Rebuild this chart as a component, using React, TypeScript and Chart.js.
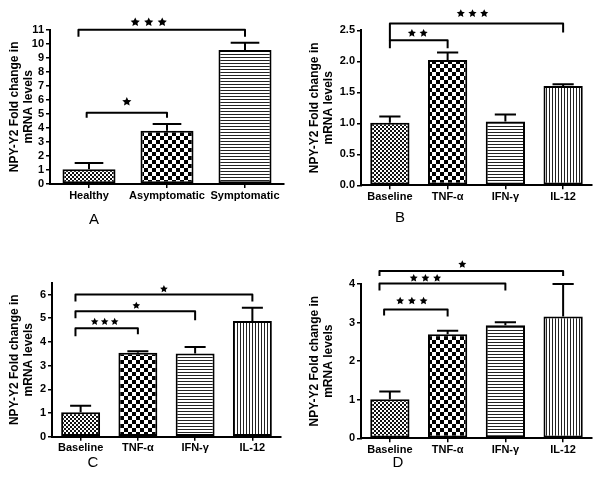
import React, { useEffect, useRef } from "react";
import { Chart, registerables } from "chart.js";
Chart.register(...registerables);

const FONT = '"Liberation Sans", Arial, Helvetica, sans-serif';
const Y_TITLE = ["NPY-Y2 Fold change in", "mRNA levels"];

// ---------- Panel A ----------
const A_CATEGORIES = ["Healthy", "Asymptomatic", "Symptomatic"];
const A_MEANS = [1.05, 3.8, 9.55];
const A_ERRORS = [0.45, 0.48, 0.52];
const A_BRACKET_FROM = [0, 0];
const A_BRACKET_TO = [2, 1];
const A_BRACKET_LEVEL = [11, 5.08];
const A_BRACKET_STARS = [3, 1];

// ---------- Panels B, C, D ----------
const TREATMENTS = ["Baseline", "TNF-α", "IFN-γ", "IL-12"];

const B_MEANS = [1.01, 2.02, 1.03, 1.6];
const B_ERRORS = [0.1, 0.12, 0.11, 0.03];
const B_BRACKET_FROM = [0, 0];
const B_BRACKET_TO = [3, 1];
const B_BRACKET_LEVEL = [2.61, 2.34];
const B_BRACKET_STARS = [3, 2];

const C_MEANS = [1.03, 3.54, 3.51, 4.88];
const C_ERRORS = [0.28, 0.07, 0.28, 0.56];
const C_BRACKET_FROM = [0, 0, 0];
const C_BRACKET_TO = [3, 2, 1];
const C_BRACKET_LEVEL = [6.0, 5.3, 4.58];
const C_BRACKET_STARS = [1, 1, 3];

const D_MEANS = [1.01, 2.7, 2.93, 3.16];
const D_ERRORS = [0.2, 0.09, 0.08, 0.84];
const D_BRACKET_FROM = [0, 0, 0];
const D_BRACKET_TO = [3, 2, 1];
const D_BRACKET_LEVEL = [4.34, 4.01, 3.34];
const D_BRACKET_STARS = [1, 3, 3];

// ---------- fill patterns ----------
function makePattern(kind: string): CanvasPattern | string {
  const c = document.createElement("canvas");
  const g = c.getContext("2d")!;
  if (kind === "fine") {
    c.width = 4; c.height = 4;
    g.fillStyle = "#fff"; g.fillRect(0, 0, 4, 4);
    g.fillStyle = "#111";
    g.fillRect(0, 0, 2, 2); g.fillRect(2, 2, 2, 2);
  } else if (kind === "coarse") {
    c.width = 8; c.height = 8;
    g.fillStyle = "#fff"; g.fillRect(0, 0, 8, 8);
    g.fillStyle = "#000";
    g.fillRect(0, 0, 4, 4); g.fillRect(4, 4, 4, 4);
  } else if (kind === "hlines") {
    c.width = 3; c.height = 3;
    g.fillStyle = "#fff"; g.fillRect(0, 0, 3, 3);
    g.fillStyle = "#222"; g.fillRect(0, 0, 3, 1);
  } else {
    c.width = 3; c.height = 3;
    g.fillStyle = "#fff"; g.fillRect(0, 0, 3, 3);
    g.fillStyle = "#222"; g.fillRect(0, 0, 1, 3);
  }
  const p = document.createElement("canvas").getContext("2d")!.createPattern(c, "repeat");
  return p || "#888";
}

type BracketStyle = { shift: number; legL: number; legR: number; dx: number; dy: number };

type PanelCfg = {
  left: number; top: number; w: number; h: number;
  labels: string[]; values: number[]; errors: number[];
  fills: string[];
  yMax: number; yStep: number; decimals: number;
  from: number[]; to: number[]; level: number[]; stars: number[];
  bstyle: BracketStyle[];
  starR: number; starGap: number;
  padding: { left: number; top: number; right: number; bottom: number };
  yWidth: number; xHeight: number;
  letter: string; letterX: number; letterY: number;
};

function drawStar(ctx: CanvasRenderingContext2D, cx: number, cy: number, r: number) {
  ctx.beginPath();
  for (let i = 0; i < 10; i++) {
    const a = -Math.PI / 2 + (i * Math.PI) / 5;
    const rad = i % 2 === 0 ? r : r * 0.48;
    const px = cx + rad * Math.cos(a);
    const py = cy + rad * Math.sin(a);
    if (i === 0) ctx.moveTo(px, py); else ctx.lineTo(px, py);
  }
  ctx.closePath();
  ctx.fill();
}

function annotations(cfg: PanelCfg) {
  return {
    id: "annot",
    afterDraw(chart: any) {
      const ctx: CanvasRenderingContext2D = chart.ctx;
      const xs = chart.scales.x;
      const ys = chart.scales.y;
      ctx.save();
      ctx.strokeStyle = "#000";
      ctx.fillStyle = "#000";
      ctx.lineWidth = 2;
      ctx.lineJoin = "round";
      ctx.lineCap = "butt";
      // error bars
      const meta = chart.getDatasetMeta(0);
      meta.data.forEach((el: any, i: number) => {
        const x = el.x;
        const yTop = el.y;
        const yErr = ys.getPixelForValue(cfg.values[i] + cfg.errors[i]);
        const half = el.width * 0.27;
        ctx.beginPath();
        ctx.moveTo(x, yTop);
        ctx.lineTo(x, yErr);
        ctx.moveTo(x - half, yErr);
        ctx.lineTo(x + half, yErr);
        ctx.stroke();
      });
      // significance brackets
      cfg.from.forEach((f, i) => {
        const st = cfg.bstyle[i];
        const xL = xs.getPixelForValue(f + st.shift);
        const xR = xs.getPixelForValue(cfg.to[i]);
        const y = ys.getPixelForValue(cfg.level[i]);
        ctx.beginPath();
        ctx.moveTo(xL, y + st.legL);
        ctx.lineTo(xL, y);
        ctx.lineTo(xR, y);
        ctx.lineTo(xR, y + st.legR);
        ctx.stroke();
        const n = cfg.stars[i];
        const cx = (xL + xR) / 2 + st.dx;
        for (let k = 0; k < n; k++) {
          const sx = cx + (k - (n - 1) / 2) * cfg.starGap;
          drawStar(ctx, sx, y - st.dy, cfg.starR);
        }
      });
      // panel letter
      ctx.font = `15px ${FONT}`;
      ctx.textAlign = "center";
      ctx.textBaseline = "middle";
      ctx.fillText(cfg.letter, cfg.letterX, cfg.letterY);
      ctx.restore();
    },
  };
}

const PANELS: PanelCfg[] = [
  {
    left: 0, top: 0, w: 300, h: 240,
    labels: A_CATEGORIES, values: A_MEANS, errors: A_ERRORS,
    fills: ["fine", "coarse", "hlines"],
    yMax: 11, yStep: 1, decimals: 0,
    from: A_BRACKET_FROM, to: A_BRACKET_TO, level: A_BRACKET_LEVEL, stars: A_BRACKET_STARS,
    bstyle: [
      { shift: -0.135, legL: 7, legR: 7, dx: -13, dy: 7.5 },
      { shift: -0.03, legL: 5, legR: 5, dx: 0, dy: 11 },
    ],
    starR: 4.8, starGap: 13.5,
    padding: { left: 0, top: 29.7, right: 16, bottom: 0 },
    yWidth: 50, xHeight: 56,
    letter: "A", letterX: 94, letterY: 220,
  },
  {
    left: 300, top: 0, w: 300, h: 240,
    labels: TREATMENTS, values: B_MEANS, errors: B_ERRORS,
    fills: ["fine", "coarse", "hlines", "vlines"],
    yMax: 2.5, yStep: 0.5, decimals: 1,
    from: B_BRACKET_FROM, to: B_BRACKET_TO, level: B_BRACKET_LEVEL, stars: B_BRACKET_STARS,
    bstyle: [
      { shift: 0, legL: 17, legR: 9, dx: -4, dy: 10 },
      { shift: 0, legL: 8, legR: 8, dx: -1, dy: 7 },
    ],
    starR: 4.3, starGap: 11.7,
    padding: { left: 0, top: 30.3, right: 8, bottom: 0 },
    yWidth: 61, xHeight: 54.7,
    letter: "B", letterX: 100, letterY: 218,
  },
  {
    left: 0, top: 240, w: 300, h: 244,
    labels: TREATMENTS, values: C_MEANS, errors: C_ERRORS,
    fills: ["fine", "coarse", "hlines", "vlines"],
    yMax: 6.5, yStep: 1, decimals: 0,
    from: C_BRACKET_FROM, to: C_BRACKET_TO, level: C_BRACKET_LEVEL, stars: C_BRACKET_STARS,
    bstyle: [
      { shift: -0.09, legL: 7, legR: 7, dx: 0, dy: 5.5 },
      { shift: -0.09, legL: 7, legR: 9, dx: 1, dy: 5.5 },
      { shift: -0.09, legL: 8, legR: 6, dx: -2, dy: 6.5 },
    ],
    starR: 4, starGap: 10,
    padding: { left: 0, top: 42.7, right: 19, bottom: 0 },
    yWidth: 52, xHeight: 47.3,
    letter: "C", letterX: 93, letterY: 222.7,
  },
  {
    left: 300, top: 240, w: 300, h: 244,
    labels: TREATMENTS, values: D_MEANS, errors: D_ERRORS,
    fills: ["fine", "coarse", "hlines", "vlines"],
    yMax: 4, yStep: 1, decimals: 0,
    from: D_BRACKET_FROM, to: D_BRACKET_TO, level: D_BRACKET_LEVEL, stars: D_BRACKET_STARS,
    bstyle: [
      { shift: -0.18, legL: 5, legR: 5, dx: -9, dy: 6.5 },
      { shift: -0.18, legL: 7, legR: 7, dx: -17, dy: 5.5 },
      { shift: -0.1, legL: 6, legR: 7, dx: -4, dy: 8.5 },
    ],
    starR: 4.2, starGap: 11.7,
    padding: { left: 0, top: 44, right: 8, bottom: 0 },
    yWidth: 61, xHeight: 45.7,
    letter: "D", letterX: 98, letterY: 222.7,
  },
];

function Panel({ cfg }: { cfg: PanelCfg }) {
  const ref = useRef<HTMLCanvasElement>(null);
  useEffect(() => {
    const canvas = ref.current;
    if (!canvas) return;
    const patterns = cfg.fills.map(makePattern);
    const tickFont = { family: FONT, size: 11, weight: "bold" as const };
    const chart = new Chart(canvas, {
      type: "bar",
      data: {
        labels: cfg.labels,
        datasets: [
          {
            data: cfg.values,
            backgroundColor: patterns as any,
            borderColor: "#000",
            borderWidth: 2,
            borderSkipped: false,
            barPercentage: 0.68,
            categoryPercentage: 1,
          },
        ],
      },
      options: {
        responsive: false,
        animation: false,
        events: [],
        layout: { padding: cfg.padding },
        plugins: {
          legend: { display: false },
          tooltip: { enabled: false },
          title: { display: false },
        },
        scales: {
          x: {
            grid: {
              display: true,
              drawOnChartArea: false,
              drawTicks: true,
              tickLength: 4,
              offset: false,
              color: "#000",
              lineWidth: 1.5,
            },
            border: { display: true, color: "#000", width: 2 },
            ticks: {
              color: "#000",
              font: tickFont,
              padding: 1,
              autoSkip: false,
              maxRotation: 0,
              minRotation: 0,
            },
            afterFit: (s: any) => {
              s.height = cfg.xHeight;
            },
          },
          y: {
            min: 0,
            max: cfg.yMax,
            grid: {
              display: true,
              drawOnChartArea: false,
              drawTicks: true,
              tickLength: 4,
              color: "#000",
              lineWidth: 1.5,
            },
            border: { display: true, color: "#000", width: 2 },
            ticks: {
              stepSize: cfg.yStep,
              includeBounds: false,
              autoSkip: false,
              color: "#000",
              font: tickFont,
              padding: 2,
              callback: (v: any) => Number(v).toFixed(cfg.decimals),
            },
            title: {
              display: true,
              text: Y_TITLE,
              color: "#000",
              font: { family: FONT, size: 12, weight: "bold", lineHeight: 1.1 },
              padding: { top: 8.5, bottom: 0 },
            },
            afterFit: (s: any) => {
              s.width = cfg.yWidth;
            },
          },
        },
      } as any,
      plugins: [annotations(cfg)],
    });
    return () => chart.destroy();
  }, [cfg]);
  return (
    <canvas
      ref={ref}
      width={cfg.w}
      height={cfg.h}
      style={{ position: "absolute", left: cfg.left, top: cfg.top, width: cfg.w, height: cfg.h }}
    />
  );
}

export default function App() {
  return (
    <div style={{ position: "absolute", left: 0, top: 0, width: 600, height: 484, background: "#fff" }}>
      {PANELS.map((p) => (
        <Panel key={p.letter} cfg={p} />
      ))}
    </div>
  );
}
